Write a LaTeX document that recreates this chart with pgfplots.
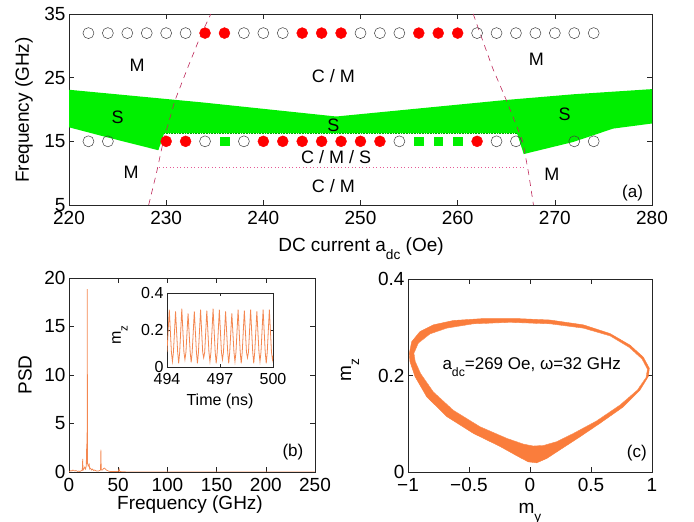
\documentclass[border=0pt]{standalone}
\usepackage{fontspec}
\setmainfont{Liberation Sans}
\usepackage{pgfplots}
\pgfplotsset{compat=1.18}
\definecolor{dorange}{RGB}{250,125,60}
\definecolor{lorange}{RGB}{244,135,80}
\definecolor{bgreen}{RGB}{0,240,0}
\definecolor{dgreen}{RGB}{0,170,0}
\definecolor{dashc}{RGB}{190,40,90}
\definecolor{dotc}{RGB}{230,90,150}
\newcommand{\sub}[1]{\raisebox{-0.42em}{\scalebox{0.72}{#1}}}
\newcommand{\fs}[1]{\fontsize{#1}{#1}\selectfont}
\begin{document}
\begin{tikzpicture}
\useasboundingbox (0pt,0pt) rectangle (694pt,522pt);
\pgfplotsset{every axis/.append style={scale only axis, anchor=south west, tick align=inside, major tick length=5pt,
  axis line style={black!85, line width=0.6pt}, every tick/.style={black!85, line width=0.5pt},
  ticklabel style={font=\fs{19}}, xticklabel style={yshift=-3pt}, /pgf/number format/assume math mode=true}}

% ---------------- panel (a)
\begin{axis}[at={(69pt,317pt)}, width=583pt, height=191pt,
  xmin=220, xmax=280, ymin=5, ymax=35, xtick={220,230,...,280}, ytick={5,15,25,35}]
\addplot[fill=bgreen, draw=none] coordinates {
 (220,23.1) (233.8,21.1) (247.5,18.9) (265,21.5) (272,22.4) (280,23.2)
 (280,17.8) (276,17.0) (271.9,14.9) (266.8,13.0) (266.1,16.3) (229.8,16.3)
 (229.2,13.6) (224,15.6) (220,17.2)} -- cycle;
\addplot[dgreen, densely dotted, line width=0.6pt] coordinates {(229.8,16.3) (266.1,16.3)};
\addplot[dashc, line width=0.6pt, dash pattern=on 6pt off 5pt] coordinates {
 (228.2,5) (229.0,10) (229.7,15) (230.9,21.4) (232.2,26.5) (233.6,31.8) (234.6,35)};
\addplot[dashc, line width=0.6pt, dash pattern=on 6pt off 5pt] coordinates {
 (261.6,35) (262.3,32) (263.6,26.5) (265.0,21.5) (266.7,15) (267.3,10) (267.8,5)};
\addplot[dotc, line width=1.1pt, dash pattern=on 1pt off 2.5pt] coordinates {(229.3,10.9) (266.9,10.9)};
% open circles
\addplot[only marks, mark=o, mark size=5.5pt, mark options={draw=black!75, line width=0.5pt}] coordinates {
 (222,32)(224,32)(226,32)(228,32)(230,32)(232,32)(238,32)(240,32)(242,32)(250,32)(252,32)(254,32)
 (262,32)(264,32)(266,32)(268,32)(270,32)(272,32)(274,32)
 (222,15)(224,15)(234,15)(238,15)(254,15)(264,15)(266,15)(272,15)(274,15)};
% red filled
\addplot[only marks, mark=*, mark size=5.5pt, mark options={draw=red, fill=red}] coordinates {
 (234,32)(236,32)(244,32)(246,32)(248,32)(256,32)(258,32)(260,32)
 (230,15)(232,15)(240,15)(242,15)(244,15)(246,15)(248,15)(250,15)(252,15)(262,15)};
% green squares
\addplot[only marks, mark=square*, mark size=4.3pt, mark options={draw=bgreen, fill=bgreen}] coordinates {
 (236,15)(256,15)(258,15)(260,15)};
\node[font=\fs{18}] at (axis cs:227,26.9) {M};
\node[font=\fs{18}] at (axis cs:247.2,25.3) {C / M};
\node[font=\fs{18}] at (axis cs:225,18.7) {S};
\node[font=\fs{18}] at (axis cs:247.2,17.5) {S};
\node[font=\fs{18}] at (axis cs:247.5,12.5) {C / M / S};
\node[font=\fs{18}] at (axis cs:226.4,10.2) {M};
\node[font=\fs{18}] at (axis cs:247.2,7.9) {C / M};
\node[font=\fs{18}] at (axis cs:268.1,27.9) {M};
\node[font=\fs{18}] at (axis cs:271.0,19.2) {S};
\node[font=\fs{18}] at (axis cs:269.7,9.8) {M};
\node[font=\fs{17}] at (axis cs:278.0,6.9) {(a)};
\end{axis}

% ---------------- panel (b)
\begin{axis}[at={(69pt,50pt)}, width=246pt, height=194pt,
  xmin=0, xmax=250, ymin=0, ymax=20, xtick={0,50,...,250}, ytick={0,5,...,20}]
\addplot[lorange, line width=0.7pt] coordinates {
 (0,0)(1,0.1)(2,0.15)(3,0.1)(4,0.2)(5,0.15)(6,0.1)(7,0.15)(8,0.1)(9,0.05)(10,0.1)(11,0.05)(12,0.1)
 (13.5,0.2)(13.9,1.35)(14.3,0.2)(15,0.3)(16,0.5)(16.8,0.3)(17.5,0.6)(18.0,2.9)(18.2,0.8)(18.45,5.0)(18.6,18.86)
 (18.8,1.0)(19.5,0.6)(20.5,0.8)(21,0.3)(22,0.4)(23,0.2)(24,0.3)(25,0.15)(26,0.2)(28,0.1)(30,0.1)
 (32,0.2)(32.4,2.3)(32.8,0.2)(34,0.2)(35,0.35)(36,0.4)(37,0.3)(38,0.2)(40,0.1)(42,0.05)(50,0.05)
 (51,0.3)(51.5,0.05)(60,0)(250,0)};
\node[font=\fs{17}] at (axis cs:227.6,2.0) {(b)};
\end{axis}

% ---------------- inset
\begin{axis}[at={(167pt,155pt)}, width=106pt, height=74pt,
  axis background/.style={fill=white},
  xmin=494, xmax=500, ymin=0, ymax=0.4, xtick={494,497,500}, ytick={0,0.2,0.4},
  ticklabel style={font=\fs{16}}, xticklabel style={yshift=0pt}, major tick length=3pt,
  /pgf/number format/.cd, fixed, 1000 sep={}]
\addplot[lorange, line width=0.8pt] coordinates {
(494.000,0.080)
(494.130,0.310)(494.250,0.080)(494.307,0.030)(494.364,0.080)
(494.484,0.300)(494.604,0.080)(494.661,0.020)(494.718,0.080)
(494.838,0.315)(494.958,0.080)(495.015,0.040)(495.072,0.080)
(495.192,0.290)(495.312,0.080)(495.369,0.025)(495.426,0.080)
(495.546,0.300)(495.666,0.080)(495.723,0.020)(495.780,0.080)
(495.900,0.310)(496.020,0.080)(496.077,0.050)(496.134,0.080)
(496.254,0.305)(496.374,0.080)(496.431,0.030)(496.488,0.080)
(496.608,0.315)(496.728,0.080)(496.785,0.020)(496.842,0.080)
(496.962,0.310)(497.082,0.080)(497.139,0.040)(497.196,0.080)
(497.316,0.300)(497.436,0.080)(497.493,0.020)(497.550,0.080)
(497.670,0.290)(497.790,0.080)(497.847,0.030)(497.904,0.080)
(498.024,0.310)(498.144,0.080)(498.201,0.020)(498.258,0.080)
(498.378,0.305)(498.498,0.080)(498.555,0.050)(498.612,0.080)
(498.732,0.310)(498.852,0.080)(498.909,0.020)(498.966,0.080)
(499.086,0.300)(499.206,0.080)(499.263,0.030)(499.320,0.080)
(499.440,0.310)(499.560,0.080)(499.617,0.020)(499.674,0.080)
(499.794,0.310)(499.914,0.080)(499.971,0.040)(500.000,0.060)};
\end{axis}

% ---------------- panel (c)
\begin{axis}[at={(408pt,50pt)}, width=244pt, height=193pt,
  xmin=-1, xmax=1, ymin=0, ymax=0.4, xtick={-1,-0.5,0,0.5,1},
  xticklabels={−1,−0.5,0,0.5,1}, ytick={0,0.2,0.4}]
\addplot[fill=dorange, draw=dorange, line width=0.4pt] coordinates {
 (-0.989,0.246)(-0.970,0.270)(-0.902,0.291)(-0.792,0.305)(-0.628,0.314)(-0.383,0.318)(-0.109,0.318)
 (0.164,0.315)(0.437,0.305)(0.656,0.287)(0.820,0.263)(0.929,0.238)(0.978,0.215)(0.970,0.198)
 (0.902,0.170)(0.765,0.135)(0.574,0.101)(0.410,0.073)(0.246,0.046)(0.137,0.028)(0.055,0.019)
 (-0.014,0.021)(-0.082,0.030)(-0.246,0.053)(-0.464,0.080)(-0.683,0.115)(-0.847,0.156)(-0.943,0.198)
 (-0.984,0.229)} -- cycle;
\addplot[fill=white, draw=dorange, line width=0.3pt] coordinates {
 (-0.951,0.246)(-0.915,0.267)(-0.820,0.286)(-0.683,0.298)(-0.464,0.307)(-0.164,0.310)(0.164,0.307)
 (0.437,0.298)(0.656,0.282)(0.814,0.258)(0.918,0.234)(0.962,0.213)(0.951,0.196)(0.880,0.170)
 (0.738,0.139)(0.546,0.106)(0.355,0.080)(0.219,0.063)(0.109,0.055)(0.027,0.054)(-0.055,0.058)
 (-0.191,0.070)(-0.410,0.094)(-0.628,0.128)(-0.792,0.166)(-0.896,0.204)(-0.940,0.229)} -- cycle;
\node[font=\fs{17}] at (axis cs:0.014,0.218) {a\sub{dc}=269 Oe, ω=32 GHz};
\node[font=\fs{17}] at (axis cs:0.875,0.040) {(c)};
\end{axis}

% ---------------- axis labels
\node[font=\fs{19}, rotate=90] at (24pt,412pt) {Frequency (GHz)};
\node[font=\fs{19}, anchor=base] at (361pt,270pt) {DC current a\sub{dc} (Oe)};
\node[font=\fs{19}, rotate=90] at (25pt,147pt) {PSD};
\node[font=\fs{19}, anchor=base] at (190pt,12pt) {Frequency (GHz)};
\node[font=\fs{19}, rotate=90] at (350pt,152pt) {m\sub{z}};
\node[font=\fs{19}, anchor=base] at (530pt,8pt) {m\sub{y}};
\node[font=\fs{16}, rotate=90] at (120pt,187pt) {m\sub{z}};
\node[font=\fs{16}, anchor=base] at (220pt,116pt) {Time (ns)};
\end{tikzpicture}
\end{document}
